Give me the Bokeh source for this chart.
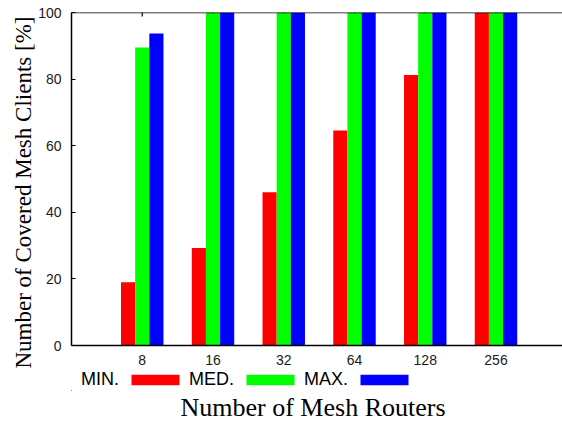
import math
from bokeh.plotting import figure
from bokeh.layouts import column
from bokeh.models import (Range1d, FixedTicker, Legend, LegendItem,
                          Title, Span, ColumnDataSource)
from bokeh.transform import dodge
from bokeh.core.properties import value
from bokeh.embed import file_html
from bokeh.resources import INLINE

# ---- data ----
routers = ["8", "16", "32", "64", "128", "256"]
min_vals = [19.0, 29.3, 46.0, 64.6, 81.2, 100.0]
med_vals = [89.5, 100.0, 100.0, 100.0, 100.0, 100.0]
max_vals = [93.7, 100.0, 100.0, 100.0, 100.0, 100.0]
series_names = ["MIN.", "MED.", "MAX."]
series_colors = ["#ff0000", "#00ff00", "#0000ff"]
y_ticks = [0, 20, 40, 60, 80, 100]

xs = [i + 1 for i in range(len(routers))]
src = ColumnDataSource(dict(x=xs, mn=min_vals, md=med_vals, mx=max_vals,
                            top_edge=[max(y_ticks)] * len(xs)))

p = figure(width=562, height=370, output_backend="svg", toolbar_location=None,
           x_range=Range1d(0, 6.94), y_range=Range1d(0, max(y_ticks)),
           min_border_left=71, min_border_right=0, min_border_top=12,
           min_border_bottom=25)
p.outline_line_color = None
p.grid.visible = False
p.background_fill_color = "white"
p.border_fill_color = "white"

# top-edge tick marks (under the bars, like the original)
p.scatter(x="x", y="top_edge", source=src, marker="dash", size=8, angle=math.pi / 2,
          line_color="black", line_width=1.2, level="underlay")

bw = 0.2
cols = ["mn", "md", "mx"]
offsets = [-bw, 0.0, bw]
bars = [p.vbar(x=dodge("x", o, range=p.x_range), top=c, width=bw, source=src,
               fill_color=col, line_color=None)
        for c, o, col in zip(cols, offsets, series_colors)]

tick_font = "Liberation Sans"
# bottom axis
xa = p.xaxis[0]
xa.ticker = FixedTicker(ticks=xs)
xa.major_label_overrides = {x: r for x, r in zip(xs, routers)}
xa.major_tick_in = 0
xa.major_tick_out = 0
xa.minor_tick_line_color = None
xa.major_label_standoff = 9
xa.major_label_text_font = tick_font
xa.major_label_text_font_size = "14px"
xa.major_label_text_color = "#1a1a1a"
xa.axis_line_width = 1.5
xa.axis_line_color = "black"

# left axis
ya = p.yaxis[0]
ya.ticker = FixedTicker(ticks=y_ticks)
ya.major_tick_in = 4
ya.major_tick_out = 0
ya.major_tick_line_width = 1.2
ya.minor_tick_line_color = None
ya.major_label_standoff = 10
ya.major_label_text_font = tick_font
ya.major_label_text_font_size = "14px"
ya.major_label_text_color = "#1a1a1a"
ya.axis_line_width = 1.5
ya.axis_line_color = "black"

# top border line
p.add_layout(Span(location=max(y_ticks), dimension="width", line_color="black",
                  line_width=1.5))

# y title
p.add_layout(Title(text="Number of Covered Mesh Clients [%]", align="left", offset=-23,
                   text_font="Liberation Serif", text_font_size="23px",
                   text_font_style="normal", text_color="black", standoff=0), "left")

# ---- legend strip + x title ----
p2 = figure(width=562, height=51, output_backend="svg", toolbar_location=None,
            x_range=Range1d(100, 101), y_range=Range1d(1000, 1001),
            x_axis_location=None, y_axis_location=None,
            min_border_left=0, min_border_right=0, min_border_top=0,
            min_border_bottom=30)
p2.outline_line_color = None
p2.grid.visible = False
p2.background_fill_color = "white"
p2.border_fill_color = "white"

# legend proxies (same series, outside this strip's visible range)
proxies = [p2.vbar(x="x", top=c, width=bw, source=src, fill_color=col, line_color=None)
           for c, col in zip(cols, series_colors)]
dummy = p2.vbar(x="x", top="mn", width=bw, source=src, fill_alpha=0, line_alpha=0)

legend = Legend(items=[
    LegendItem(label=value(series_names[0]), renderers=[dummy]),
    LegendItem(label=value(series_names[1]), renderers=[proxies[0]]),
    LegendItem(label=value(series_names[2]), renderers=[proxies[1]]),
    LegendItem(label=value(" "), renderers=[proxies[2]]),
], orientation="horizontal", location=(-54, 0), glyph_width=60, glyph_height=13,
    label_standoff=4, spacing=6, padding=0, margin=0, border_line_color=None,
    background_fill_alpha=0, label_text_font=tick_font, label_text_font_size="18px",
    label_text_color="black")
p2.add_layout(legend)

p2.add_layout(Title(text="Number of Mesh Routers", align="left", offset=109,
                    text_font="Liberation Serif", text_font_size="26px",
                    text_font_style="normal", text_color="black", standoff=0), "below")

layout = column(p, p2, spacing=0)
open("out.html", "w").write(file_html(layout, INLINE))
